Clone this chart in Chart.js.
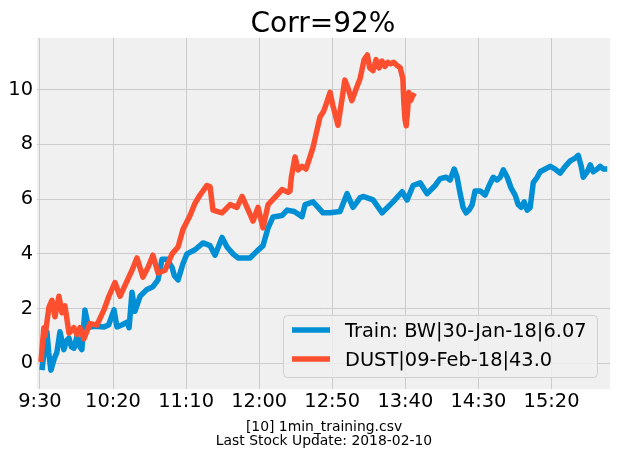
<!DOCTYPE html>
<html>
<head>
<meta charset="utf-8">
<script src="https://cdn.jsdelivr.net/npm/chart.js@4/dist/chart.umd.min.js"></script>
<style>
  html, body { margin: 0; padding: 0; background: #ffffff; }
  #wrap { width: 617px; height: 458px; }
</style>
</head>
<body>
<div id="wrap"><canvas id="c" width="617" height="458"></canvas></div>
<script>
const chartTitle = 'Corr=92%';
const footerLines = ['[10] 1min_training.csv', 'Last Stock Update: 2018-02-10'];
const trainLabel = 'Train: BW|30-Jan-18|6.07';
const testLabel = 'DUST|09-Feb-18|43.0';

const tickMinutes = [0, 50, 100, 150, 200, 250, 300, 350];
const tickLabels = ['9:30', '10:20', '11:10', '12:00', '12:50', '13:40', '14:30', '15:20'];
const yTicks = [0, 2, 4, 6, 8, 10];

// minutes since 9:30 and values
const trainMinutes = [1.4, 3, 4.8, 6, 7.5, 10, 11.6, 13.7, 16.4, 18, 19.9, 21.5, 23.3, 25.3, 27.4, 28.7, 30.8, 32.5, 34.2, 37.6, 43.8, 47, 50.7, 52.7, 56, 59.6, 61, 63, 65, 68.5, 73.2, 77.3, 80.8, 83.5, 86.9, 90.4, 92, 94.5, 97.9, 100.6, 106.1, 111.6, 116.4, 119.8, 124.6, 128, 132.1, 135.5, 143.7, 148.5, 152.6, 156.1, 159.5, 165.6, 169.1, 174, 179.3, 181.4, 186.9, 193.7, 198.5, 205.3, 210.1, 214.2, 219, 221.1, 227.9, 234.1, 241.6, 247.8, 251.2, 255.3, 260.1, 264.9, 270.4, 273.8, 277.9, 280.6, 283.4, 285.4, 287.5, 289.5, 291.6, 293.6, 295.7, 297.7, 301.2, 304.6, 307.3, 310.1, 312.8, 314.9, 317, 319.7, 322.4, 325.1, 327.2, 329.2, 331.3, 333.3, 335.4, 337.5, 340.2, 342.2, 345.7, 349.1, 352.5, 355.9, 359.4, 362.8, 366.2, 368.3, 370.3, 371.7, 374.4, 376.5, 378.5, 381.3, 383.3, 385.4, 388.1];
const trainValues = [-0.25, 0.5, 1.15, 0.4, -0.25, 0.2, 0.4, 1.15, 0.5, 0.8, 0.92, 0.6, 0.55, 0.97, 0.6, 0.5, 1.95, 1.5, 1.33, 1.35, 1.33, 1.4, 1.95, 1.33, 1.4, 1.5, 1.3, 2.6, 1.9, 2.45, 2.7, 2.8, 3.05, 3.8, 3.8, 3.5, 3.2, 3.05, 3.65, 4.0, 4.15, 4.4, 4.3, 3.95, 4.6, 4.25, 4.0, 3.85, 3.85, 4.1, 4.3, 4.95, 5.35, 5.4, 5.6, 5.55, 5.36, 5.8, 5.9, 5.5, 5.5, 5.55, 6.2, 5.7, 6.05, 6.1, 5.97, 5.5, 5.9, 6.27, 5.97, 6.5, 6.6, 6.2, 6.5, 6.75, 6.8, 6.7, 7.1, 6.8, 6.2, 5.7, 5.5, 5.6, 5.8, 6.3, 6.3, 6.15, 6.5, 6.8, 6.7, 6.8, 7.07, 6.8, 6.4, 6.15, 5.8, 5.7, 5.9, 5.6, 5.7, 6.6, 6.8, 7.0, 7.1, 7.2, 7.1, 6.95, 7.2, 7.4, 7.5, 7.6, 7.2, 6.8, 7.0, 7.25, 7.0, 7.1, 7.2, 7.1, 7.1];

const testMinutes = [0.7, 2.7, 3.5, 6.2, 8.2, 10.3, 13, 15.1, 17.1, 19.9, 23.3, 25.3, 27.4, 30.1, 34.2, 39, 43.8, 47.2, 51.3, 54.8, 58.2, 63, 66.4, 70.5, 73.9, 77.3, 80.8, 85.6, 90.4, 94.5, 97.9, 102.7, 106.1, 109.5, 114.3, 116.4, 118.4, 124.6, 130.1, 134.8, 138.3, 141.7, 145.8, 149.2, 152.6, 156.1, 162.2, 165.6, 169.8, 171.1, 172, 174.5, 176.6, 179.3, 182, 184.5, 186.9, 189, 191.6, 194, 196, 198.5, 200.5, 202.5, 203.9, 206.5, 208.6, 210.5, 213.4, 216.8, 219, 221.8, 224, 225.6, 227.9, 230, 232, 234, 236, 238, 240, 242, 244, 246.5, 248.3, 249, 249.8, 250.6, 251.5, 252.3, 253.7, 255.1, 256.8];
const testValues = [0.05, 1.3, 1.0, 2.05, 2.3, 1.7, 2.45, 1.85, 2.1, 1.1, 1.3, 1.05, 1.3, 0.9, 1.45, 1.4, 1.95, 2.45, 2.95, 2.45, 2.85, 3.4, 3.85, 3.15, 3.5, 3.95, 3.3, 3.4, 4.0, 4.25, 4.9, 5.4, 5.85, 6.15, 6.5, 6.45, 5.6, 5.5, 5.8, 5.7, 6.1, 5.7, 5.2, 5.7, 4.95, 5.8, 6.15, 6.35, 6.25, 6.3, 6.8, 7.54, 7.07, 7.2, 7.1, 7.5, 7.9, 8.4, 9.0, 9.2, 9.5, 9.9, 9.4, 9.0, 8.7, 9.6, 10.35, 10.1, 9.6, 10.1, 10.4, 11.1, 11.27, 10.8, 10.7, 11.1, 10.8, 11.05, 10.85, 11.0, 10.95, 11.0, 10.9, 10.8, 10.4, 9.5, 8.9, 8.68, 9.2, 9.9, 9.6, 9.8, 9.74];

const BLUE = '#008fd5';
const ORANGE = '#fc4f30';
const FONT = '"DejaVu Sans", sans-serif';

const toPoints = (xs, ys) => xs.map((x, i) => ({ x: x, y: ys[i] }));

const decor = {
  id: 'decor',
  beforeDraw(chart) {
    const { ctx, chartArea: a } = chart;
    ctx.save();
    ctx.fillStyle = '#f0f0f0';
    ctx.fillRect(a.left, a.top, a.right - a.left, a.bottom - a.top);
    ctx.restore();
  },
  afterDraw(chart) {
    const ctx = chart.ctx;
    ctx.save();
    // title
    ctx.fillStyle = '#000';
    ctx.font = '28px ' + FONT;
    ctx.textAlign = 'center';
    ctx.textBaseline = 'alphabetic';
    ctx.fillText(chartTitle, 323, 32);
    // footer
    ctx.font = '13.9px ' + FONT;
    ctx.fillText(footerLines[0], 324, 431);
    ctx.fillText(footerLines[1], 324, 445);
    // legend
    const bx = 283.5, by = 315.5, bw = 314, bh = 62, r = 4;
    ctx.beginPath();
    ctx.moveTo(bx + r, by);
    ctx.lineTo(bx + bw - r, by);
    ctx.arcTo(bx + bw, by, bx + bw, by + r, r);
    ctx.lineTo(bx + bw, by + bh - r);
    ctx.arcTo(bx + bw, by + bh, bx + bw - r, by + bh, r);
    ctx.lineTo(bx + r, by + bh);
    ctx.arcTo(bx, by + bh, bx, by + bh - r, r);
    ctx.lineTo(bx, by + r);
    ctx.arcTo(bx, by, bx + r, by, r);
    ctx.closePath();
    ctx.fillStyle = 'rgba(240,240,240,0.8)';
    ctx.fill();
    ctx.strokeStyle = '#d0d0d0';
    ctx.lineWidth = 1;
    ctx.stroke();
    const ds = chart.data.datasets;
    const rows = [330, 359];
    ds.forEach((d, i) => {
      ctx.beginPath();
      ctx.strokeStyle = d.borderColor;
      ctx.lineWidth = 5.5;
      ctx.lineCap = 'butt';
      ctx.moveTo(292, rows[i]);
      ctx.lineTo(330, rows[i]);
      ctx.stroke();
      ctx.fillStyle = '#000';
      ctx.font = '19.4px ' + FONT;
      ctx.textAlign = 'left';
      ctx.textBaseline = 'alphabetic';
      ctx.fillText(d.label, 345, rows[i] + 7);
    });
    ctx.restore();
  }
};

new Chart(document.getElementById('c'), {
  type: 'line',
  data: {
    datasets: [
      { label: trainLabel, data: toPoints(trainMinutes, trainValues), borderColor: BLUE, backgroundColor: BLUE,
        borderWidth: 5.5, pointRadius: 0, tension: 0, borderJoinStyle: 'round', borderCapStyle: 'butt', order: 1 },
      { label: testLabel, data: toPoints(testMinutes, testValues), borderColor: ORANGE, backgroundColor: ORANGE,
        borderWidth: 5.5, pointRadius: 0, tension: 0, borderJoinStyle: 'round', borderCapStyle: 'butt', order: 0 }
    ]
  },
  options: {
    responsive: false,
    animation: false,
    devicePixelRatio: 1,
    layout: { padding: { left: 0, right: 7, top: 38, bottom: 39 } },
    plugins: { legend: { display: false }, tooltip: { enabled: false }, title: { display: false } },
    scales: {
      x: {
        type: 'linear', min: -2, max: 390,
        afterBuildTicks: s => { s.ticks = tickMinutes.map(v => ({ value: v })); },
        afterFit: s => { s.height = 30; },
        ticks: { callback: v => tickLabels[tickMinutes.indexOf(v)], font: { family: FONT, size: 19.4 }, color: '#000',
                 padding: 1, maxRotation: 0, autoSkip: false },
        grid: { color: '#cbcbcb', lineWidth: 1, drawTicks: false },
        border: { display: false }
      },
      y: {
        type: 'linear', min: -0.94, max: 11.89,
        afterBuildTicks: s => { s.ticks = yTicks.map(v => ({ value: v })); },
        afterFit: s => { s.width = 37; },
        ticks: { font: { family: FONT, size: 19.4 }, color: '#000', padding: 4 },
        grid: { color: '#cbcbcb', lineWidth: 1, drawTicks: false },
        border: { display: false }
      }
    }
  },
  plugins: [decor]
});
</script>
</body>
</html>
